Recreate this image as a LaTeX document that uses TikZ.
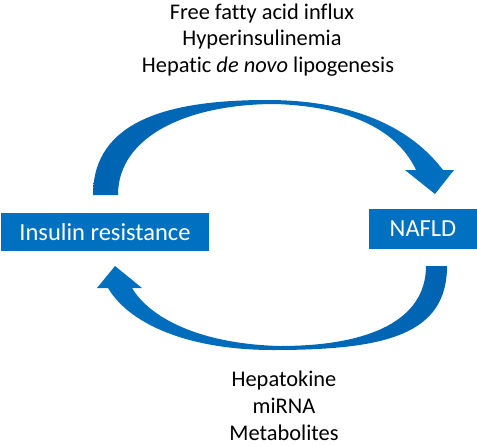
\documentclass[tikz,border=0pt]{standalone}
\usepackage{fontspec}
\setmainfont{Carlito}[Ligatures=NoCommon]
\definecolor{ppblue}{RGB}{0,112,192}
\definecolor{ppdark}{RGB}{0,100,178}
\begin{document}
\begin{tikzpicture}[x=1pt, y=-1pt,
        box/.style={fill=ppblue, text=white, inner sep=0pt, font=\fontsize{24.5}{29}\selectfont},
        lbl/.style={anchor=base, inner sep=0pt, font=\fontsize{22.4}{27}\selectfont}]
        \useasboundingbox (0,0) rectangle (477,445);

        %boxes
        \node[box, minimum width=208pt, minimum height=38pt] (ir) at (105,232) {Insulin resistance};
        \node[box, minimum width=108pt, minimum height=40pt] (nafld) at (423,229) {NAFLD};

        %upper arrow
        \shade[left color=ppdark, right color=ppblue] (93,195) .. controls (93,120) and (170,100) .. (267,100)
            .. controls (340,100) and (405,120) .. (443,170) -- (454,170) -- (435,194) -- (405,170) -- (416,170)
            .. controls (395,125) and (340,106) .. (275,104) .. controls (190,104) and (118,135) .. (118,195) -- cycle;

        %lower arrow
        \shade[left color=ppblue, right color=ppdark] (447,266) .. controls (447,335) and (385,350) .. (273,350)
            .. controls (190,350) and (130,325) .. (108,288) -- (97,288) -- (115,266) -- (142,288) -- (132,288)
            .. controls (150,318) and (200,344) .. (280,346) .. controls (370,346) and (426,320) .. (426,266) -- cycle;

        %labels
        \node[lbl] (ffa) at (262,19) {Free fatty acid influx};
        \node[lbl] (hyp) at (262,45) {Hyperinsulinemia};
        \node[lbl] (dnl) at (268,72) {Hepatic \textit{de novo} lipogenesis};
        \node[lbl] (hk) at (284,386) {Hepatokine};
        \node[lbl] (mir) at (284,413) {miRNA};
        \node[lbl] (met) at (284,440) {Metabolites};
\end{tikzpicture}
\end{document}
